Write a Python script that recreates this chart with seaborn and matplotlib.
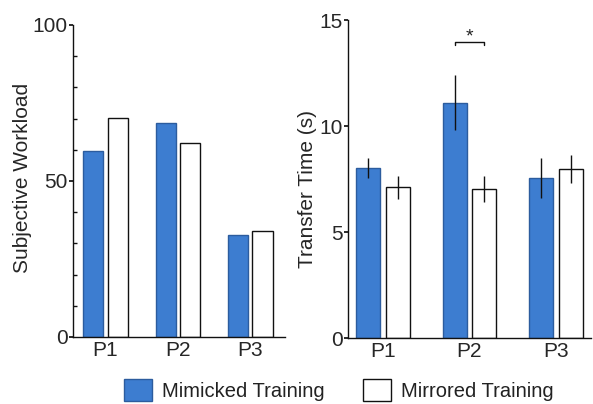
import matplotlib
matplotlib.use("Agg")
import matplotlib.pyplot as plt
import seaborn as sns
import pandas as pd
from matplotlib.patches import Patch
from matplotlib.ticker import MultipleLocator

# ---- data ----
phases = ["P1", "P2", "P3"]
conditions = ["Mimicked Training", "Mirrored Training"]
workload_mimicked = [59.6, 68.6, 32.7]
workload_mirrored = [70.2, 62.2, 34.0]
time_mimicked = [8.02, 11.1, 7.53]
time_mirrored = [7.11, 7.03, 7.97]
time_err_mimicked = [0.47, 1.3, 0.94]
time_err_mirrored = [0.54, 0.6, 0.64]

BLUE = "#3D7DD0"
FONT = ["Liberation Sans", "DejaVu Sans"]

sns.set_theme(style="ticks")
plt.rcParams["font.family"] = FONT
plt.rcParams["text.color"] = "#222222"

def make_df(a, b):
    rows = []
    for p, v in zip(phases, a):
        rows.append({"phase": p, "cond": conditions[0], "val": v})
    for p, v in zip(phases, b):
        rows.append({"phase": p, "cond": conditions[1], "val": v})
    return pd.DataFrame(rows)

fig = plt.figure(figsize=(5.93, 4.04), dpi=100)
ax1 = fig.add_axes([73/593, 1-337/404, 212/593, 312/404])
ax2 = fig.add_axes([348/593, 1-338/404, 243/593, 318/404])

palette = {conditions[0]: BLUE, conditions[1]: "white"}

for ax, df in [(ax1, make_df(workload_mimicked, workload_mirrored)),
               (ax2, make_df(time_mimicked, time_mirrored))]:
    sns.barplot(data=df, x="phase", y="val", hue="cond", order=phases,
                hue_order=conditions, palette=palette, width=0.68, gap=0.18,
                errorbar=None, legend=False, ax=ax, saturation=1)
    for patch in ax.patches:
        fc = patch.get_facecolor()
        if fc[0] > 0.9 and fc[1] > 0.9:
            patch.set_edgecolor("#111111")
        else:
            patch.set_edgecolor("#2C5C9E")
        patch.set_linewidth(1.0)
    sns.despine(ax=ax)
    ax.set_xlabel("")
    for s in ["left", "bottom"]:
        ax.spines[s].set_linewidth(1.0)
        ax.spines[s].set_color("#111111")
    ax.tick_params(axis="x", which="major", length=0, labelsize=15, pad=3)
    ax.tick_params(axis="y", which="major", length=3, direction="out",
                   labelsize=15, pad=1, color="#111111")

# left axes
ax1.set_ylim(0, 100)
ax1.set_xlim(-0.45, 2.48)
ax1.yaxis.set_major_locator(MultipleLocator(50))
ax1.yaxis.set_minor_locator(MultipleLocator(10))
ax1.tick_params(axis="y", which="minor", length=3, direction="in", color="#111111")
ax1.set_ylabel("Subjective Workload", fontsize=15)
ax1.yaxis.set_label_coords(-0.193, 0.51)

# right axes
ax2.set_ylim(0, 15)
ax2.set_xlim(-0.405, 2.405)
ax2.yaxis.set_major_locator(MultipleLocator(5))
ax2.set_ylabel("Transfer Time (s)", fontsize=15)
ax2.yaxis.set_label_coords(-0.128, 0.47)

# error bars from bar patches
bars = sorted(ax2.patches, key=lambda p: p.get_x())
vals = []
errs = []
for i in range(len(phases)):
    vals += [time_mimicked[i], time_mirrored[i]]
    errs += [time_err_mimicked[i], time_err_mirrored[i]]
xs = [b.get_x() + b.get_width()/2 for b in bars]
ax2.errorbar(xs, vals, yerr=errs, fmt="none", ecolor="#111111",
             elinewidth=1.0, capsize=0)

# inward x ticks at bar centers
for ax in (ax1, ax2):
    bc = sorted([p.get_x() + p.get_width()/2 for p in ax.patches])
    ax.set_xticks(bc, minor=True)
    ax.tick_params(axis="x", which="minor", length=3, direction="in",
                   color="#111111")

# significance bracket on P2
x0, x1 = xs[2], xs[3]
yb = 13.96
ax2.plot([x0, x0, x1, x1], [yb - 0.15, yb, yb, yb - 0.15], color="#111111", lw=1.0)
ax2.text((x0 + x1)/2, 13.98, "*", ha="center", va="baseline", fontsize=14)

# legend
handles = [Patch(facecolor=BLUE, edgecolor="#2C5C9E", label=conditions[0]),
           Patch(facecolor="white", edgecolor="#111111", label=conditions[1])]
fig.legend(handles=handles, loc="center", bbox_to_anchor=(0.572, 0.035),
           ncol=2, frameon=False, fontsize=14.5, handlelength=1.39,
           handleheight=1.35, columnspacing=1.9, handletextpad=0.5,
           borderpad=0.0)

fig.savefig("out.png", dpi=100)
